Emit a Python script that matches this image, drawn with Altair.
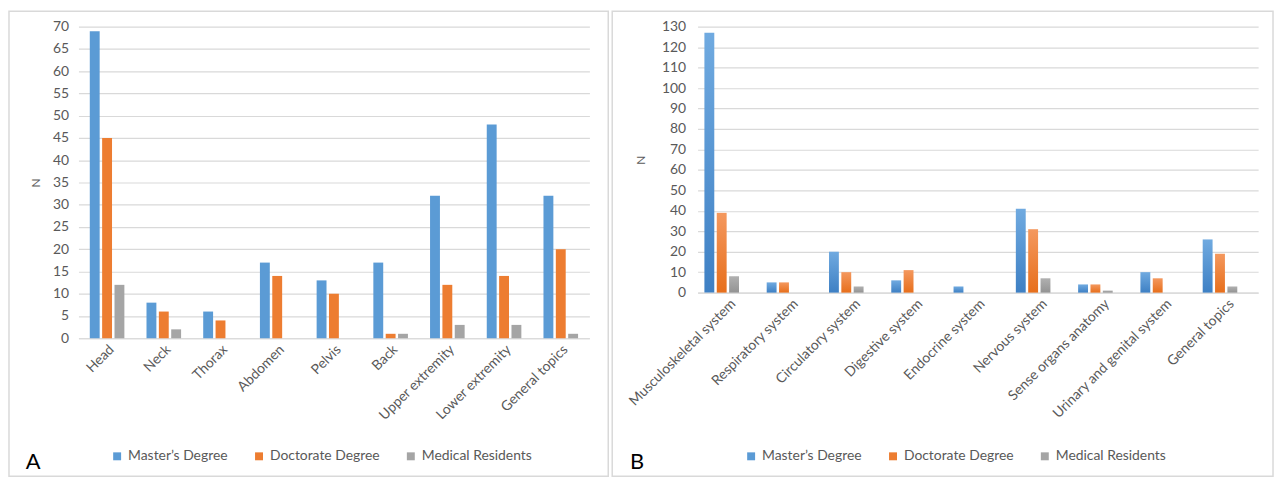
import altair as alt
import pandas as pd

series = ["Master’s Degree", "Doctorate Degree", "Medical Residents"]
colors = ["#5b9bd5", "#ed7d31", "#a5a5a5"]
grad_top = ["#70aae0", "#f4985e", "#b0b0b0"]
grad_bot = ["#3e80c4", "#e76f1c", "#939393"]

a_cats = ["Head", "Neck", "Thorax", "Abdomen", "Pelvis", "Back",
          "Upper extremity", "Lower extremity", "General topics"]
a_master = [69, 8, 6, 17, 13, 17, 32, 48, 32]
a_doct = [45, 6, 4, 14, 10, 1, 12, 14, 20]
a_res = [12, 2, 0, 0, 0, 1, 3, 3, 1]

b_cats = ["Musculoskeletal system", "Respiratory system", "Circulatory system",
          "Digestive system", "Endocrine system", "Nervous system",
          "Sense organs anatomy", "Urinary and genital system", "General topics"]
b_master = [127, 5, 20, 6, 3, 41, 4, 10, 26]
b_doct = [39, 5, 10, 11, 0, 31, 4, 7, 19]
b_res = [8, 0, 3, 0, 0, 7, 1, 0, 3]

FONT = "Lato"
TXT = "#595959"
GRID = "#d9d9d9"


def make_df(cats, m, d, r):
    rows = []
    for i, c in enumerate(cats):
        for s, v in zip(series, (m[i], d[i], r[i])):
            rows.append({"cat": c, "series": s, "n": v})
    return pd.DataFrame(rows)


def grad(top, bot):
    return {"gradient": "linear",
            "stops": [{"color": top, "offset": 0}, {"color": bot, "offset": 1}],
            "x1": 0.5, "x2": 0.5, "y1": 0.001, "y2": 1}


def panel(df, cats, ymax, ystep, width, height, pi, po, lab_pad, title_pad,
          frame, letter, letter_x, leg_x, gradient):
    x_enc = alt.X("cat:N", sort=cats,
                  scale=alt.Scale(paddingInner=pi, paddingOuter=po),
                  axis=alt.Axis(title=None, labelAngle=-45, labelAlign="right",
                                labelBaseline="top", labelPadding=4,
                                labelFontSize=14, labelColor=TXT, labelFont=FONT,
                                ticks=False, domainColor=GRID, domainWidth=1,
                                labelLimit=300))
    xo_enc = alt.XOffset("series:N", sort=series,
                         scale=alt.Scale(domain=series, paddingInner=0.2))
    y_enc = alt.Y("n:Q", scale=alt.Scale(domain=[0, ymax], nice=False),
                  axis=alt.Axis(title="N", values=list(range(0, ymax + 1, ystep)),
                                labelFontSize=14, labelColor=TXT, labelFont=FONT,
                                labelPadding=lab_pad, titlePadding=title_pad,
                                titleFontSize=12, titleColor=TXT, titleFont=FONT,
                                titleFontWeight="normal", ticks=False,
                                domain=False, gridColor=GRID, gridWidth=1.2))
    bars = alt.Chart(df).mark_bar(opacity=0 if gradient else 1).encode(
        x=x_enc, xOffset=xo_enc, y=y_enc,
        color=alt.Color("series:N", sort=series,
                        scale=alt.Scale(domain=series, range=colors),
                        legend=alt.Legend(orient="none", legendX=leg_x,
                                          legendY=426, direction="horizontal",
                                          title=None, symbolType="square",
                                          symbolSize=64, symbolStrokeWidth=0,
                                          symbolOpacity=1,
                                          labelFontSize=14, labelColor=TXT,
                                          labelFont=FONT, labelOffset=4,
                                          columnPadding=24, labelLimit=300)),
    ).properties(width=width, height=height)

    layers = []
    one = pd.DataFrame({"t": [letter]})
    box = alt.Chart(one).mark_rect(fill="white", fillOpacity=0, stroke=GRID,
                                   strokeWidth=1.5).encode(
        x=alt.value(frame[0]), x2=alt.value(frame[1]),
        y=alt.value(frame[2]), y2=alt.value(frame[3]))
    layers.append(box)
    layers.append(bars)
    if gradient:
        for s, t, b in zip(series, grad_top, grad_bot):
            layers.append(alt.Chart(df).transform_filter(
                alt.datum.series == s).mark_bar(fill=grad(t, b)).encode(
                x=x_enc, xOffset=xo_enc, y=y_enc))
    lab = alt.Chart(one).mark_text(align="left", baseline="alphabetic",
                                   fontSize=22, font=FONT, color="#000000").encode(
        x=alt.value(letter_x), y=alt.value(446), text="t:N")
    layers.append(lab)
    return alt.layer(*layers)


pa = panel(make_df(a_cats, a_master, a_doct, a_res), a_cats, 70, 5, 515, 314,
           0.39, 0.2, 10, 10, (-70, 534, -15.5, 453), "A", -53, 32, False)
pb = panel(make_df(b_cats, b_master, b_doct, b_res), b_cats, 130, 10, 565, 268,
           0.22, 0.11, 12, 14, (-86, 580, -15.5, 453), "B", -68, 47, True)

chart = alt.hconcat(pa, pb, spacing=2).resolve_scale(
    color="independent").resolve_legend(color="independent").properties(
    padding=0, background="white").configure_view(stroke=None)

chart.save("out.html", embed_options={"renderer": "svg", "actions": False})
